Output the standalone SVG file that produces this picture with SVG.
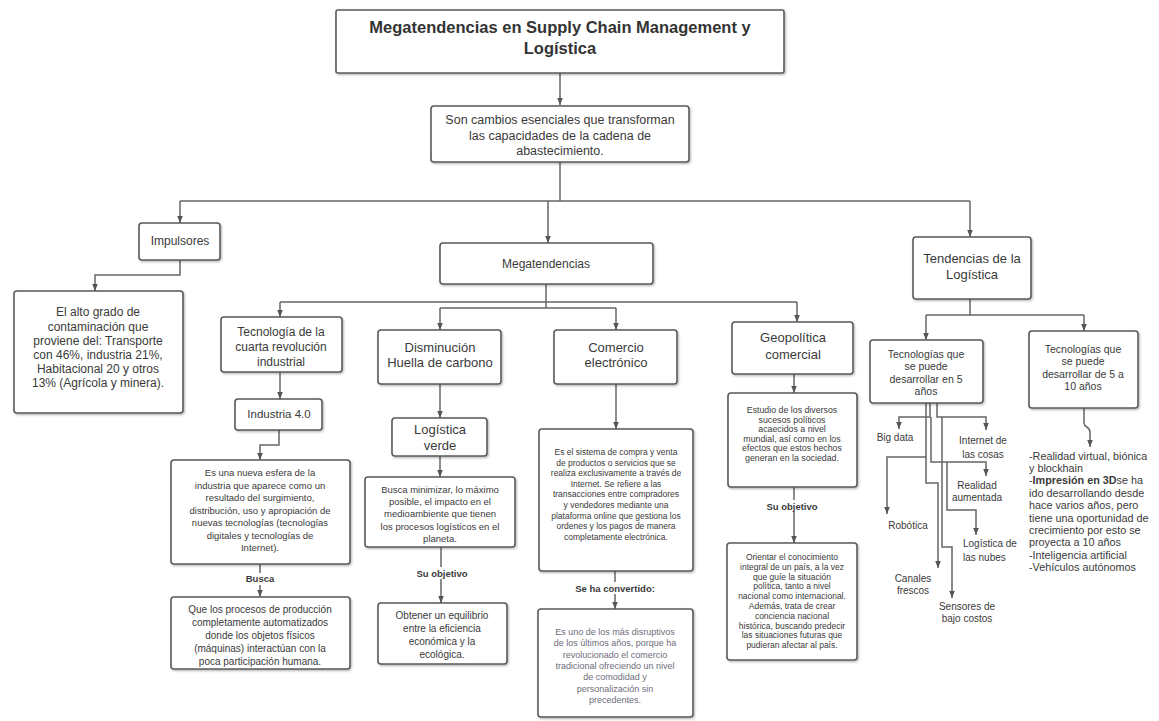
<svg xmlns="http://www.w3.org/2000/svg" width="1159" height="721" viewBox="0 0 1159 721">
<defs>
<marker id="ah" viewBox="0 0 10 10" refX="10" refY="5" markerWidth="7" markerHeight="7" orient="auto" markerUnits="userSpaceOnUse"><path d="M0,1 L10,5 L0,9 z" fill="#555"/></marker>
<filter id="sh" x="-5%" y="-5%" width="112%" height="115%"><feDropShadow dx="1" dy="1.2" stdDeviation="0.8" flood-color="#000" flood-opacity="0.3"/></filter>
</defs>
<style>
.b{fill:#fff;stroke:#5a5a5a;stroke-width:1.6;filter:url(#sh)}
text{font-family:"Liberation Sans",Arial,sans-serif;fill:#3a3a3a;text-anchor:middle}
.t{font-size:16.5px;font-weight:bold;fill:#333}
.f12{font-size:12px}.f125{font-size:12.5px}.f13{font-size:13px}.f115{font-size:11.5px}.f10{font-size:10px}.f108{font-size:10.8px}.f95{font-size:9.5px}.f9{font-size:9px}.f88{font-size:8.8px}.f85{font-size:8.5px}.f105{font-size:10.5px}
.lb{font-weight:bold;font-size:9.5px}
.gr{fill:#6d6d7a}
.st{text-anchor:start}
.c{fill:none;stroke:#666;stroke-width:1.5}
.a{marker-end:url(#ah)}
</style>
<rect width="1159" height="721" fill="#fff"/>
<g id="connectors">
<path class="c a" d="M560,73 V105"/>
<path class="c" d="M560,162 V201"/>
<path class="c" d="M180,201 H970"/>
<path class="c a" d="M180,201 V223"/>
<path class="c a" d="M548,201 V243"/>
<path class="c a" d="M970,201 V237"/>
<path class="c a" d="M180,260 V275 H95 V291"/>
<path class="c" d="M546,284 V308"/>
<path class="c" d="M280,302 H797"/>
<path class="c" d="M440,308 H616"/>
<path class="c a" d="M280,302 V317"/>
<path class="c a" d="M797,302 V322"/>
<path class="c a" d="M440,308 V330"/>
<path class="c a" d="M616,308 V330"/>
<path class="c a" d="M280,372 V399"/>
<path class="c a" d="M279,430 V445 H260 V460"/>
<path class="c a" d="M260,564 V597"/>
<path class="c a" d="M440,384 V418"/>
<path class="c a" d="M440,456 V477"/>
<path class="c a" d="M441,547 V603"/>
<path class="c a" d="M616,384 V429"/>
<path class="c a" d="M615,571 V609"/>
<path class="c a" d="M794,374 V393"/>
<path class="c a" d="M794,487 V543"/>
<path class="c" d="M970,299 V315"/>
<path class="c" d="M926,315 H1084"/>
<path class="c a" d="M926,315 V340"/>
<path class="c a" d="M1084,315 V331"/>
<path class="c a" d="M1084,408 V423 C1084,428 1090,426 1090,432 V447"/>
<path class="c a" d="M930,403 V417 H899 V429"/>
<path class="c a" d="M937,403 V417 H986 V430"/>
<path class="c a" d="M926,403 V457 H887 V514"/>
<path class="c a" d="M931,417 V462 H986 V476"/>
<path class="c a" d="M926,457 V483 H938 V568"/>
<path class="c a" d="M942,417 V547 H952 V598"/>
<path class="c a" d="M947,462 V510 H976 V535"/>
</g>
<g id="title"><rect class="b" x="336" y="10" width="448" height="63" rx="2"/>
<text class="t" x="560" y="33">Megatendencias en Supply Chain Management y</text>
<text class="t" x="560" y="54">Logística</text></g>
<g id="definicion"><rect class="b" x="431" y="106" width="258" height="56" rx="3"/>
<text class="f125" x="560" y="124">Son cambios esenciales que transforman</text>
<text class="f125" x="560" y="140">las capacidades de la cadena de</text>
<text class="f125" x="560" y="155">abastecimiento.</text></g>
<g id="impulsores"><rect class="b" x="139" y="223" width="81" height="37" rx="3"/>
<text class="f12" x="180" y="245">Impulsores</text></g>
<g id="contaminacion"><rect class="b" x="14" y="291" width="169" height="122" rx="3"/>
<text class="f12" x="98" y="316">El alto grado de</text>
<text class="f12" x="98" y="331">contaminación que</text>
<text class="f12" x="98" y="345">proviene del: Transporte</text>
<text class="f12" x="98" y="359">con 46%, industria 21%,</text>
<text class="f12" x="98" y="373">Habitacional 20 y otros</text>
<text class="f12" x="98" y="387">13% (Agrícola y minera).</text></g>
<g id="megatendencias"><rect class="b" x="440" y="243" width="213" height="41" rx="3"/>
<text class="f12" x="546" y="268">Megatendencias</text></g>
<g id="tendencias"><rect class="b" x="913" y="237" width="118" height="62" rx="3"/>
<text class="f13" x="972" y="263">Tendencias de la</text>
<text class="f13" x="972" y="279">Logística</text></g>
<g id="tecnologia"><rect class="b" x="221" y="317" width="121" height="55" rx="3"/>
<text class="f12" x="281" y="336">Tecnología de la</text>
<text class="f12" x="281" y="351">cuarta revolución</text>
<text class="f12" x="281" y="366">industrial</text></g>
<g id="industria40"><rect class="b" x="235" y="399" width="87" height="31" rx="3"/>
<text class="f115" x="279" y="418">Industria 4.0</text></g>
<g id="esfera"><rect class="b" x="171" y="460" width="179" height="104" rx="3"/>
<text class="f95" x="260" y="476">Es una nueva esfera de la</text>
<text class="f95" x="260" y="488.5">industria que aparece como un</text>
<text class="f95" x="260" y="501">resultado del surgimiento,</text>
<text class="f95" x="260" y="513.5">distribución, uso y apropiación de</text>
<text class="f95" x="260" y="526">nuevas tecnologías (tecnologías</text>
<text class="f95" x="260" y="538.5">digitales y tecnologías de</text>
<text class="f95" x="260" y="551">Internet).</text></g>
<g id="lbl-busca"><rect x="244" y="573" width="32" height="12" fill="#fff"/><text class="lb" x="260" y="582">Busca</text></g>
<g id="procesos"><rect class="b" x="171" y="597" width="179" height="72" rx="3"/>
<text class="f10" x="260" y="612.5">Que los procesos de producción</text>
<text class="f10" x="260" y="625.5">completamente automatizados</text>
<text class="f10" x="260" y="638.5">donde los objetos físicos</text>
<text class="f10" x="260" y="651.5">(máquinas) interactúan con la</text>
<text class="f10" x="260" y="664.5">poca participación humana.</text></g>
<g id="disminucion"><rect class="b" x="378" y="330" width="123" height="54" rx="3"/>
<text class="f13" x="440" y="352">Disminución</text>
<text class="f13" x="440" y="367">Huella de carbono</text></g>
<g id="logverde"><rect class="b" x="392" y="418" width="95" height="38" rx="3"/>
<text class="f13" x="440" y="434">Logística</text>
<text class="f13" x="440" y="450">verde</text></g>
<g id="minimizar"><rect class="b" x="365" y="477" width="150" height="70" rx="3"/>
<text class="f95" x="440" y="493">Busca minimizar, lo máximo</text>
<text class="f95" x="440" y="505">posible, el impacto en el</text>
<text class="f95" x="440" y="517">medioambiente que tienen</text>
<text class="f95" x="440" y="530">los procesos logísticos en el</text>
<text class="f95" x="440" y="542">planeta.</text></g>
<g id="lbl-obj1"><rect x="414" y="567" width="56" height="12" fill="#fff"/><text class="lb" x="442" y="576.5">Su objetivo</text></g>
<g id="equilibrio"><rect class="b" x="378" y="603" width="129" height="61" rx="3"/>
<text class="f10" x="442" y="618.5">Obtener un equilibrio</text>
<text class="f10" x="442" y="631.5">entre la eficiencia</text>
<text class="f10" x="442" y="644.5">económica y la</text>
<text class="f10" x="442" y="657.5">ecológica.</text></g>
<g id="comercio"><rect class="b" x="554" y="330" width="123" height="54" rx="3"/>
<text class="f13" x="616" y="352">Comercio</text>
<text class="f13" x="616" y="367">electrónico</text></g>
<g id="sistema"><rect class="b" x="539" y="429" width="154" height="142" rx="3"/>
<text class="f85" x="616" y="455">Es el sistema de compra y venta</text>
<text class="f85" x="616" y="465.6">de productos o servicios que se</text>
<text class="f85" x="616" y="476.2">realiza exclusivamente a través de</text>
<text class="f85" x="616" y="486.8">Internet. Se refiere a las</text>
<text class="f85" x="616" y="497.4">transacciones entre compradores</text>
<text class="f85" x="616" y="508">y vendedores mediante una</text>
<text class="f85" x="616" y="518.6">plataforma online que gestiona los</text>
<text class="f85" x="616" y="529.2">ordenes y los pagos de manera</text>
<text class="f85" x="616" y="539.8">completamente electrónica.</text></g>
<g id="lbl-conv"><rect x="572" y="582" width="86" height="12" fill="#fff"/><text class="lb" x="615" y="591.5">Se ha convertido:</text></g>
<g id="disruptivo"><rect class="b" x="538" y="609" width="155" height="108" rx="3"/>
<text class="f9 gr" x="615" y="635">Es uno de los más disruptivos</text>
<text class="f9 gr" x="615" y="646.3">de los últimos años, porque ha</text>
<text class="f9 gr" x="615" y="657.6">revolucionado el comercio</text>
<text class="f9 gr" x="615" y="668.9">tradicional ofreciendo un nivel</text>
<text class="f9 gr" x="615" y="680.2">de comodidad y</text>
<text class="f9 gr" x="615" y="691.5">personalización sin</text>
<text class="f9 gr" x="615" y="702.8">precedentes.</text></g>
<g id="geopolitica"><rect class="b" x="732" y="322" width="121" height="52" rx="3"/>
<text class="f13" x="793" y="342">Geopolítica</text>
<text class="f13" x="793" y="359">comercial</text></g>
<g id="estudio"><rect class="b" x="728" y="393" width="129" height="94" rx="3"/>
<text class="f88" x="792" y="413">Estudio de los diversos</text>
<text class="f88" x="792" y="422.6">sucesos políticos</text>
<text class="f88" x="792" y="432.2">acaecidos a nivel</text>
<text class="f88" x="792" y="441.8">mundial, así como en los</text>
<text class="f88" x="792" y="451.4">efectos que estos hechos</text>
<text class="f88" x="792" y="461">generan en la sociedad.</text></g>
<g id="lbl-obj2"><rect x="764" y="500" width="58" height="12" fill="#fff"/><text class="lb" x="792" y="509.5">Su objetivo</text></g>
<g id="orientar"><rect class="b" x="727" y="543" width="130" height="117" rx="3"/>
<text class="f85" x="792" y="560">Orientar el conocimiento</text>
<text class="f85" x="792" y="569.8">integral de un país, a la vez</text>
<text class="f85" x="792" y="579.6">que guíe la situación</text>
<text class="f85" x="792" y="589.4">política, tanto a nivel</text>
<text class="f85" x="792" y="599.2">nacional como internacional.</text>
<text class="f85" x="792" y="609">Además, trata de crear</text>
<text class="f85" x="792" y="618.8">conciencia nacional</text>
<text class="f85" x="792" y="628.6">histórica, buscando predecir</text>
<text class="f85" x="792" y="638.4">las situaciones futuras que</text>
<text class="f85" x="792" y="648.2">pudieran afectar al país.</text></g>
<g id="tec5"><rect class="b" x="870" y="340" width="113" height="63" rx="3"/>
<text class="f105" x="926" y="357.5">Tecnologías que</text>
<text class="f105" x="926" y="370">se puede</text>
<text class="f105" x="926" y="382.5">desarrollar en 5</text>
<text class="f105" x="926" y="395">años</text></g>
<g id="tec10"><rect class="b" x="1029" y="331" width="109" height="77" rx="3"/>
<text class="f105" x="1083" y="352.5">Tecnologías que</text>
<text class="f105" x="1083" y="365">se puede</text>
<text class="f105" x="1083" y="377.5">desarrollar de 5 a</text>
<text class="f105" x="1083" y="390">10 años</text></g>
<g id="bigdata"><text class="f10" x="895" y="440.5">Big data</text></g>
<g id="iot"><text class="f10" x="983" y="443.5">Internet de</text><text class="f10" x="983" y="457.5">las cosas</text></g>
<g id="realidad"><text class="f10" x="977" y="488.5">Realidad</text><text class="f10" x="977" y="500.5">aumentada</text></g>
<g id="robotica"><text class="f10" x="908" y="528.5">Robótica</text></g>
<g id="nubes"><text class="f10 st" x="963" y="546.5">Logística de</text><text class="f10 st" x="963" y="560.5">las nubes</text></g>
<g id="canales"><text class="f10" x="913" y="581.5">Canales</text><text class="f10" x="913" y="593.5">frescos</text></g>
<g id="sensores"><text class="f10" x="967" y="609.5">Sensores de</text><text class="f10" x="967" y="621.5">bajo costos</text></g>
<g id="tec10-lista">
<text class="f108 st" x="1029" y="459.5">-Realidad virtual, biónica</text>
<text class="f108 st" x="1029" y="471.9">y blockhain</text>
<text class="f108 st" x="1029" y="484.3">-<tspan font-weight="bold">Impresión en 3D</tspan>se ha</text>
<text class="f108 st" x="1029" y="496.7">ido desarrollando desde</text>
<text class="f108 st" x="1029" y="509.1">hace varios años, pero</text>
<text class="f108 st" x="1029" y="521.5">tiene una oportunidad de</text>
<text class="f108 st" x="1029" y="533.9">crecimiento por esto se</text>
<text class="f108 st" x="1029" y="546.3">proyecta a 10 años</text>
<text class="f108 st" x="1029" y="558.7">-Inteligencia artificial</text>
<text class="f108 st" x="1029" y="571.1">-Vehículos autónomos</text>
</g>
</svg>
